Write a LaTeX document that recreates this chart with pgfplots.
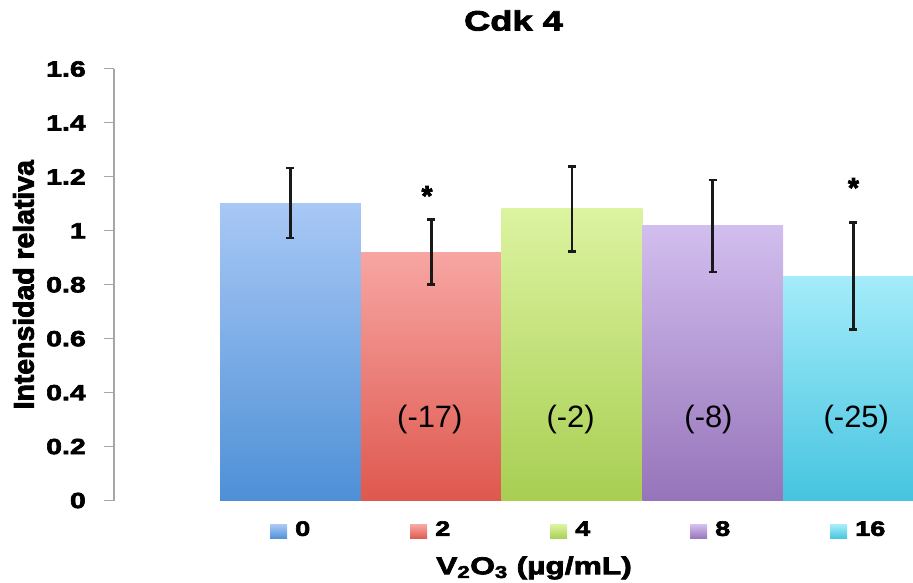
\documentclass[border=0pt]{standalone}
\usepackage{pgfplots}
\pgfplotsset{compat=1.18}
\usepackage{pgfplotstable}
\usepackage{fontspec}
\setmainfont{Liberation Sans}
\newfontfamily\boldwide{Liberation Sans Bold}[FakeStretch=1.3,FakeBold=3]
\newfontfamily\boldnarrow{Liberation Sans Bold}[FakeBold=3]

\definecolor{blueT}{RGB}{168,200,245}\definecolor{blueB}{RGB}{78,144,214}
\definecolor{redT}{RGB}{247,166,163}\definecolor{redB}{RGB}{222,88,78}
\definecolor{greenT}{RGB}{220,243,160}\definecolor{greenB}{RGB}{168,206,82}
\definecolor{purpT}{RGB}{210,190,238}\definecolor{purpB}{RGB}{150,116,186}
\definecolor{cyanT}{RGB}{164,236,250}\definecolor{cyanB}{RGB}{70,196,224}

\pgfplotstableread{
x y err
0 1.103 0.13
}\dzero
\pgfplotstableread{
x y err
1 0.921 0.12
}\dtwo
\pgfplotstableread{
x y err
2 1.081 0.157
}\dfour
\pgfplotstableread{
x y err
3 1.018 0.170
}\deight
\pgfplotstableread{
x y err
4 0.832 0.199
}\dsixteen

\begin{document}
\begin{tikzpicture}
\begin{axis}[
  name=ax,
  scale only axis,
  width=799bp, height=431.5bp,
  xmin=-1.254, xmax=4.423,
  ymin=0, ymax=1.6,
  ytick={0,0.2,0.4,0.6,0.8,1,1.2,1.4,1.6},
  xtick=\empty,
  axis y line*=left,
  axis x line*=bottom,
  x axis line style={draw=none},
  y axis line style={draw=gray!70, line width=1.2bp},
  ytick style={draw=gray!70, line width=1bp},
  tick align=outside,
  major tick length=10bp,
  /pgf/number format/assume math mode=true,
  yticklabel style={font=\boldwide\fontsize{22}{22}\selectfont, inner sep=0pt, xshift=-18bp},
  ylabel={Intensidad relativa},
  ylabel style={font=\boldnarrow\fontsize{28.5}{28.5}\selectfont, at={(axis description cs:-0.1133,0.5)}, anchor=center},
  xlabel={V\textsubscript{2}O\textsubscript{3} (µg/mL)},
  xlabel style={font=\boldwide\fontsize{24.5}{24.5}\selectfont, at={(axis description cs:0.5257,-0.1564)}, anchor=center},
  title={Cdk 4},
  title style={font=\boldwide\fontsize{28}{28}\selectfont, at={(axis description cs:0.5,1.0985)}, anchor=center},
  legend columns=5,
  legend style={at={(axis description cs:0.1952,-0.0685)}, anchor=west, draw=none, fill=none,
    inner sep=0pt, font=\boldwide\fontsize{21}{21}\selectfont,
    nodes={inner sep=0pt}, cells={anchor=base west},
    /tikz/every odd column/.append style={column sep=8bp},
    /tikz/every even column/.append style={column sep=75bp}},
  legend image code/.code={\path[#1, draw=none] (0bp,-3bp) rectangle (17bp,11bp);},
  error bars/y dir=both, error bars/y explicit,
  error bars/error bar style={line width=2.6bp, black!90},
  error bars/error mark options={line width=2.6bp, black!90, mark size=4bp, rotate=90},
]
\addplot[ybar, bar shift=0pt, bar width=1, draw=none, top color=blueT, bottom color=blueB]
  table[x=x, y=y, y error=err] {\dzero};
\addlegendentry{\makebox[40bp][l]{0}}
\addplot[ybar, bar shift=0pt, bar width=1, draw=none, top color=redT, bottom color=redB]
  table[x=x, y=y, y error=err] {\dtwo};
\addlegendentry{\makebox[40bp][l]{2}}
\addplot[ybar, bar shift=0pt, bar width=1, draw=none, top color=greenT, bottom color=greenB]
  table[x=x, y=y, y error=err] {\dfour};
\addlegendentry{\makebox[40bp][l]{4}}
\addplot[ybar, bar shift=0pt, bar width=1, draw=none, top color=purpT, bottom color=purpB]
  table[x=x, y=y, y error=err] {\deight};
\addlegendentry{\makebox[40bp][l]{8}}
\addplot[ybar, bar shift=0pt, bar width=1, draw=none, top color=cyanT, bottom color=cyanB]
  table[x=x, y=y, y error=err] {\dsixteen};
\addlegendentry{\makebox[40bp][l]{16}}

\node[font=\fontsize{31}{31}\selectfont] at (axis cs:0.99,0.30) {(-17)};
\node[font=\fontsize{31}{31}\selectfont] at (axis cs:1.99,0.30) {(-2)};
\node[font=\fontsize{31}{31}\selectfont] at (axis cs:2.97,0.30) {(-8)};
\node[font=\fontsize{31}{31}\selectfont] at (axis cs:4.02,0.30) {(-25)};
\node[font=\boldnarrow\fontsize{28}{28}\selectfont] at (axis cs:0.97,1.13) {*};
\node[font=\boldnarrow\fontsize{28}{28}\selectfont] at (axis cs:4.0,1.16) {*};
\end{axis}
\pgfresetboundingbox
\path[use as bounding box] ([xshift=-114bp,yshift=-82.5bp]ax.south west) rectangle ([yshift=69bp]ax.north east);
\end{tikzpicture}
\end{document}
